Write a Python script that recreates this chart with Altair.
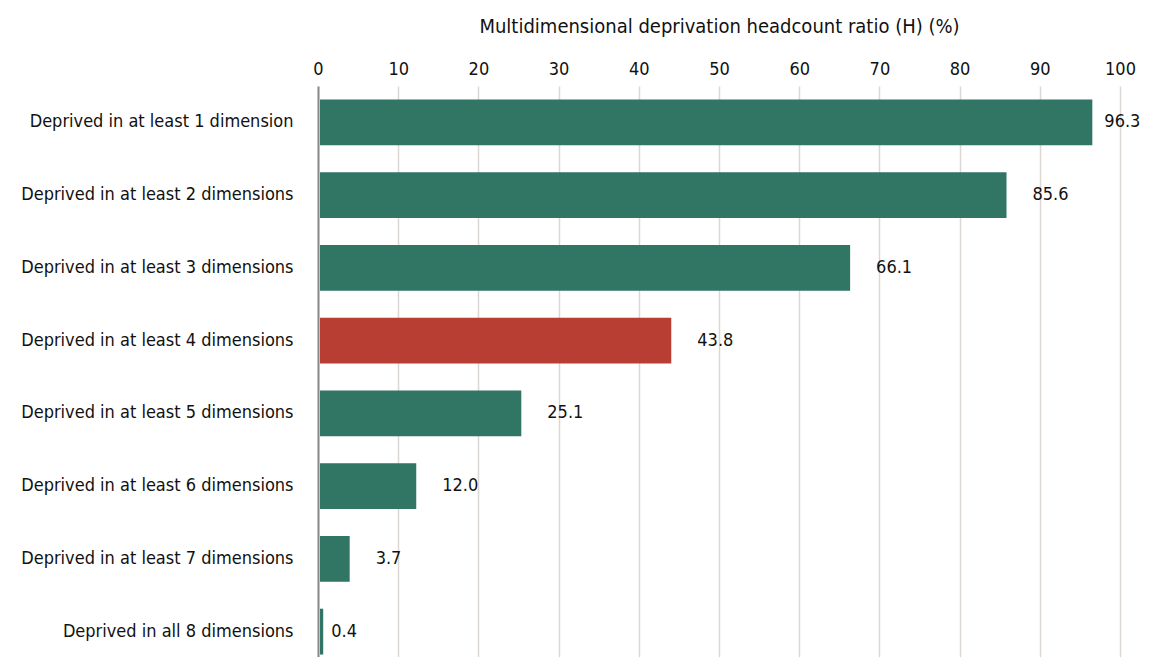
import altair as alt
import pandas as pd

categories = [
    "Deprived in at least 1 dimension",
    "Deprived in at least 2 dimensions",
    "Deprived in at least 3 dimensions",
    "Deprived in at least 4 dimensions",
    "Deprived in at least 5 dimensions",
    "Deprived in at least 6 dimensions",
    "Deprived in at least 7 dimensions",
    "Deprived in all 8 dimensions",
]
values = [96.3, 85.6, 66.1, 43.8, 25.1, 12.0, 3.7, 0.4]
highlight = [False, False, False, True, False, False, False, False]

df = pd.DataFrame({"cat": categories, "val": values, "hl": highlight})
df["label"] = df["val"].map(lambda v: f"{v:.1f}")

FONT = "Liberation Sans Narrow, DejaVu Sans Condensed, Roboto, sans-serif"

y = alt.Y("cat:N", sort=categories, title=None,
          scale=alt.Scale(paddingInner=0.37, paddingOuter=0.185),
          axis=alt.Axis(labelFontSize=18, labelColor="#111", labelPadding=25,
                        ticks=False, domain=True, domainColor="#8a8a8a",
                        domainWidth=2, grid=False, labelFont=FONT,
                        labelLimit=400))

x = alt.X("val:Q", title="Multidimensional deprivation headcount ratio (H) (%)",
          scale=alt.Scale(domain=[0, 100], nice=False),
          axis=alt.Axis(orient="top", values=list(range(0, 101, 10)),
                        labelFontSize=18, labelColor="#111", labelFont=FONT,
                        labelFlush=False,
                        ticks=False, domain=False, grid=True,
                        gridColor="#dcd7d3", gridWidth=1.5,
                        labelPadding=8, titleFontSize=20, titleFont=FONT,
                        titleFontWeight="normal", titleColor="#111",
                        titlePadding=24))

bars = alt.Chart(df).mark_bar(xOffset=2).encode(
    y=y, x=x,
    color=alt.condition(alt.datum.hl, alt.value("#b83e33"), alt.value("#317565")),
)

text_enc = dict(
    y=alt.Y("cat:N", sort=categories),
    x=alt.X("val:Q"),
    text="label:N",
)

def labels(cond, dx):
    return alt.Chart(df).transform_filter(cond).mark_text(
        align="left", baseline="middle", dx=dx, fontSize=18, font=FONT, color="#111"
    ).encode(**text_enc)

text_mid = labels("datum.val >= 1 && datum.val < 90", 28)
text_top = labels("datum.val >= 90", 14)
text_low = labels("datum.val < 1", 10)

chart = alt.layer(bars, text_mid, text_top, text_low).properties(
    width=802, height=582,
    autosize=alt.AutoSizeParams(type="none"),
    padding={"left": 310, "top": 78, "right": 23, "bottom": 0},
).configure_view(stroke=None)

chart.save("out.html", embed_options={"renderer": "svg", "actions": False})
